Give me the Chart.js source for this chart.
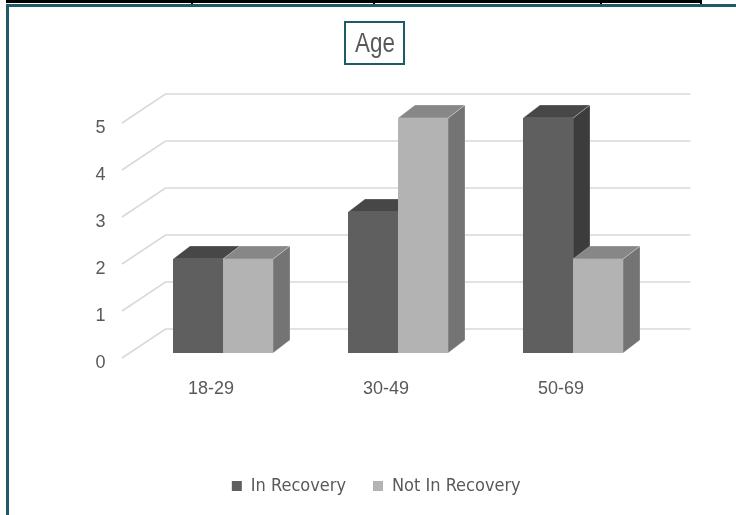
<!DOCTYPE html>
<html>
<head>
<meta charset="utf-8">
<title>Age</title>
<script src="https://cdn.jsdelivr.net/npm/chart.js@4/dist/chart.umd.min.js"></script>
<style>
  html, body { margin: 0; padding: 0; background: #ffffff; }
  #wrap { position: relative; width: 736px; height: 515px; overflow: hidden; }
  #c { position: absolute; left: 0; top: 0; }
  .rule { position: absolute; }
  #title {
    position: absolute; left: 344px; top: 21px; width: 57px; height: 40px;
    border: 2px solid #1e5b68; text-align: center; overflow: hidden;
  }
  #title span {
    display: inline-block;
    font-family: "Liberation Sans", Arial, sans-serif;
    font-size: 28px; line-height: 40px; color: #595959;
    transform: scaleX(0.8); transform-origin: 50% 50%;
  }
</style>
</head>
<body>
<div id="wrap">
  <canvas id="c" width="736" height="515"></canvas>
  <!-- worksheet cell borders above the chart frame -->
  <div class="rule" style="left:6px;top:0;width:696px;height:3px;background:#000"></div>
  <div class="rule" style="left:191px;top:0;width:2px;height:4px;background:#000"></div>
  <div class="rule" style="left:373px;top:0;width:2px;height:4px;background:#000"></div>
  <div class="rule" style="left:600px;top:0;width:2px;height:4px;background:#000"></div>
  <div class="rule" style="left:700px;top:0;width:2px;height:4px;background:#000"></div>
  <!-- chart frame -->
  <div class="rule" style="left:6px;top:4px;width:730px;height:3px;background:#1e5b68"></div>
  <div class="rule" style="left:6px;top:4px;width:3px;height:511px;background:#1e5b68"></div>
  <div id="title"><span>Age</span></div>
</div>
<script>
// Age groups and counts per recovery status
const categories = ['18-29', '30-49', '50-69'];
const inRecovery = [2, 3, 5];
const notInRecovery = [2, 5, 2];
const yTickValues = [0, 1, 2, 3, 4, 5];

const AXIS_FONT = { family: '"Liberation Sans", Arial, sans-serif', size: 18 };
const NARROW_FONT = '"DejaVu Sans Condensed", "Liberation Sans Narrow", sans-serif';
const TEXT_GRAY = '#595959';

// face shades for the extruded bars
const SHADES = [
  { front: '#5f5f5f', top: '#474747', side: '#3c3c3c' },
  { front: '#b3b3b3', top: '#878787', side: '#747474' }
];
const DEPTH = { x: 17, y: 13 };        // bar extrusion
const WALL = { x: 30, y: 24 };         // back wall shift from the front plane
const FRONT_EDGE = { x: -13.5, y: 5 }; // where side-wall grid lines start

function poly(ctx, pts, fill) {
  ctx.beginPath();
  ctx.moveTo(pts[0][0], pts[0][1]);
  for (let k = 1; k < pts.length; k++) ctx.lineTo(pts[k][0], pts[k][1]);
  ctx.closePath();
  ctx.fillStyle = fill;
  ctx.fill();
  ctx.strokeStyle = 'rgba(255,255,255,0.25)';
  ctx.lineWidth = 1;
  ctx.stroke();
}

// Draws the perspective grid and the top/side faces of each bar;
// the front faces are the regular Chart.js bars drawn afterwards.
const box3d = {
  id: 'box3d',
  beforeDatasetsDraw(chart) {
    const { ctx, chartArea, scales } = chart;
    const ys = scales.y;
    ctx.save();
    ctx.strokeStyle = '#d9d9d9';
    ctx.lineWidth = 1.6;
    yTickValues.forEach(v => {
      const py = ys.getPixelForValue(v);
      ctx.beginPath();
      ctx.moveTo(chartArea.left + FRONT_EDGE.x, py + FRONT_EDGE.y);
      ctx.lineTo(chartArea.left + WALL.x, py - WALL.y);
      ctx.lineTo(chartArea.right + WALL.x, py - WALL.y);
      ctx.stroke();
    });

    const metas = chart.data.datasets.map((_, d) => chart.getDatasetMeta(d));
    categories.forEach((_, i) => {
      metas.forEach((meta, d) => {
        const el = meta.data[i];
        const { x, y, base, width } = el.getProps(['x', 'y', 'base', 'width'], true);
        const l = x - width / 2, r = x + width / 2;
        const sh = SHADES[d];
        poly(ctx, [[r, y], [r + DEPTH.x, y - DEPTH.y], [r + DEPTH.x, base - DEPTH.y], [r, base]], sh.side);
        poly(ctx, [[l, y], [r, y], [r + DEPTH.x, y - DEPTH.y], [l + DEPTH.x, y - DEPTH.y]], sh.top);
      });
    });
    ctx.restore();
  }
};

new Chart(document.getElementById('c'), {
  type: 'bar',
  data: {
    labels: categories,
    datasets: [
      { label: 'In Recovery', data: inRecovery, backgroundColor: SHADES[0].front, borderWidth: 0 },
      { label: 'Not In Recovery', data: notInRecovery, backgroundColor: SHADES[1].front, borderWidth: 0 }
    ]
  },
  options: {
    responsive: false,
    animation: false,
    devicePixelRatio: 1,
    layout: { padding: { left: 92, right: 75.5, top: 118, bottom: 10 } },
    datasets: { bar: { categoryPercentage: 0.5715, barPercentage: 1 } },
    scales: {
      x: {
        type: 'category',
        offset: true,
        grid: { display: false, drawTicks: false },
        border: { display: false },
        ticks: { font: AXIS_FONT, color: TEXT_GRAY, padding: 25, labelOffset: -12, maxRotation: 0 },
        afterFit(s) { s.height = 97; }
      },
      y: {
        min: 0,
        max: 5,
        grid: { display: false, drawTicks: false },
        border: { display: false },
        ticks: { stepSize: 1, font: AXIS_FONT, color: TEXT_GRAY, padding: 30, labelOffset: 10 },
        afterFit(s) { s.width = 43.5; }
      }
    },
    plugins: {
      title: { display: false },
      tooltip: { enabled: false },
      legend: {
        position: 'bottom',
        labels: {
          boxWidth: 10,
          boxHeight: 10,
          padding: 27,
          color: TEXT_GRAY,
          font: { family: NARROW_FONT, size: 18 }
        }
      }
    }
  },
  plugins: [box3d]
});
</script>
</body>
</html>
